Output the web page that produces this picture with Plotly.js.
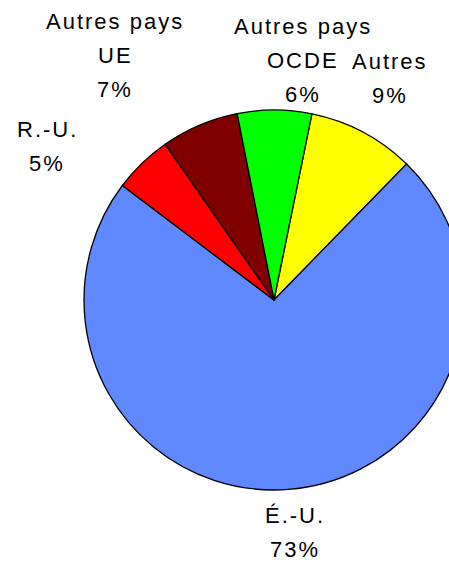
<!DOCTYPE html>
<html>
<head>
<meta charset="utf-8">
<script src="https://cdn.plot.ly/plotly-3.0.1.min.js"></script>
<style>
  html, body { margin: 0; padding: 0; overflow: hidden; background: #fff; }
  #chart { width: 480px; height: 561px; }
  .annotation-text { letter-spacing: 2px; }
</style>
</head>
<body>
<div id="chart"></div>
<script>
// Data (clockwise from ~11° past 12 o'clock)
const labels = ['Autres', 'É.-U.', 'R.-U.', 'Autres pays UE', 'Autres pays OCDE'];
const labelLines = [['Autres'], ['É.-U.'], ['R.-U.'], ['Autres pays', 'UE'], ['Autres pays', 'OCDE']];
const values = [9.1, 73.0, 5.0, 6.6, 6.3];
const colors = ['#FFFF00', '#6189FF', '#FF0000', '#800000', '#00FF00'];

// Label anchor positions (pixels: centre x, first-line baseline y)
const labelPos = [[390, 69], [295, 523], [47, 137], [115, 29], [303, 34]];

const W = 480, H = 561;
const cx = 274, cy = 300, r = 190;
const LINE = 34;

const total = values.reduce((a, b) => a + b, 0);
const annotations = [];
labels.forEach((lab, i) => {
  const lines = labelLines[i].concat([Math.round(values[i] / total * 100) + '%']);
  lines.forEach((t, j) => {
    const base = labelPos[i][1] + j * LINE;
    annotations.push({
      text: t, xref: 'paper', yref: 'paper',
      x: labelPos[i][0] / W, y: 1 - (base - 7.6) / H,
      xanchor: 'center', yanchor: 'middle', showarrow: false,
      font: { family: 'Liberation Sans, Arial, sans-serif', size: 22, color: '#000' }
    });
  });
});

const trace = {
  type: 'pie',
  labels: labels,
  values: values,
  sort: false,
  direction: 'clockwise',
  rotation: 11.5,
  textinfo: 'none',
  hoverinfo: 'label+percent',
  marker: { colors: colors, line: { color: '#000', width: 1.3 } },
  domain: { x: [(cx - r) / W, (cx + r) / W], y: [(H - cy - r) / H, (H - cy + r) / H] },
  showlegend: false
};

Plotly.newPlot('chart', [trace], {
  width: W, height: H,
  margin: { l: 0, r: 0, t: 0, b: 0 },
  paper_bgcolor: '#fff',
  showlegend: false,
  annotations: annotations
}, { displayModeBar: false, staticPlot: true });
</script>
</body>
</html>
